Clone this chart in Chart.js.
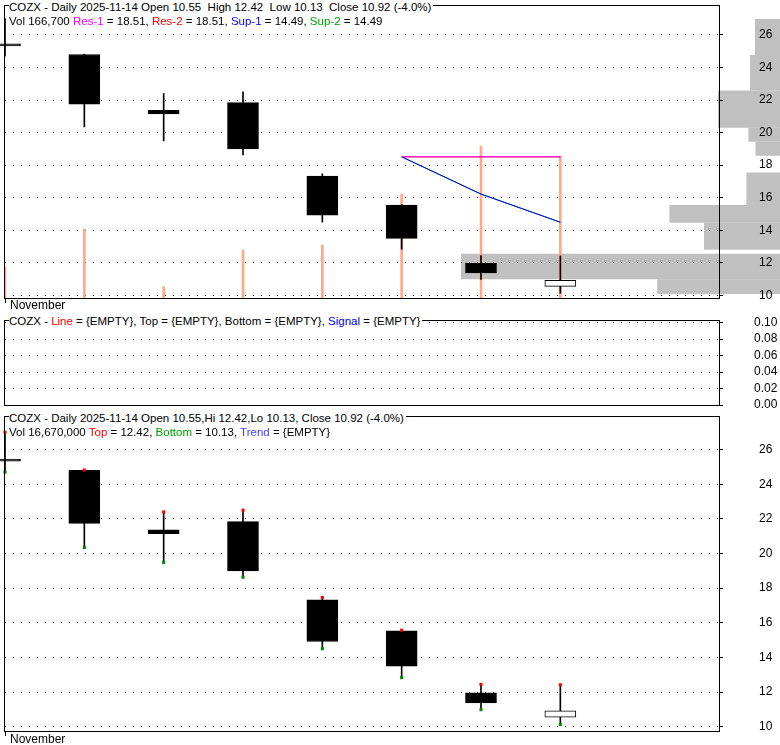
<!DOCTYPE html>
<html>
<head>
<meta charset="utf-8">
<title>COZX Daily</title>
<script src="https://cdn.jsdelivr.net/npm/chart.js@4.4.1/dist/chart.umd.min.js"></script>
<style>
  body { margin: 0; background: #fff; }
  #wrap { position: relative; width: 780px; height: 745px; overflow: hidden; font-family: "Liberation Sans", Arial, sans-serif; }
  canvas { position: absolute; left: 0; }
  .hdr { position: absolute; font-size: 11.5px; line-height: 14px; white-space: pre; color: #000; }
  .bg { background: #fff; padding-right: 2px; }
</style>
</head>
<body>
<div id="wrap">
  <canvas id="hist" width="780" height="315" style="top:0"></canvas>
  <canvas id="price" width="780" height="315" style="top:0"></canvas>
  <canvas id="ind" width="780" height="95" style="top:315px"></canvas>
  <canvas id="hilo" width="780" height="335" style="top:410px"></canvas>
  <div class="hdr bg" id="h1" style="left:9px;top:0"></div>
  <div class="hdr" id="h2" style="left:9px;top:14px"></div>
  <div class="hdr bg" id="h3" style="left:9px;top:314px"></div>
  <div class="hdr bg" id="h4" style="left:9px;top:411px"></div>
  <div class="hdr" id="h5" style="left:9px;top:425px"></div>
</div>
<script>
// daily candles (index 0 = first day shown)
const days = [0, 1, 2, 3, 4, 5, 6, 7];
const openPx  = [25.40, 24.80, 21.37, 21.84, 17.32, 15.54, 11.96, 10.55];
const highPx  = [27.00, 24.82, 22.40, 22.50, 17.46, 15.57, 12.44, 12.42];
const lowPx   = [24.70, 20.35, 19.49, 18.63, 14.50, 12.83, 10.98, 10.13];
const closePx = [25.33, 21.74, 21.14, 19.00, 14.92, 13.50, 11.37, 10.92];
const volume  = [36700, 81000, 13300, 56400, 62200, 122100, 178400, 166700];

// resistance / support lines
const srDays = [5, 6, 7];
const res1 = [18.51, 18.51, 18.51];
const res2 = [18.51, 18.51, 18.51];
const sup1 = [18.51, 16.22, 14.49];
const sup2 = [18.51, 16.22, 14.49];

// volume by price
const binLow  = [24.77, 22.58, 20.30, 19.44, 18.58, 15.55, 14.46, 12.80, 10.98, 10.08];
const binHigh = [26.98, 24.77, 22.58, 20.30, 19.44, 17.54, 15.55, 14.46, 12.56, 10.98];
const binVol  = [25000, 30000, 62000, 31600, 24500, 33600, 110600, 76000, 319000, 122800];

const priceTicks = [10, 12, 14, 16, 18, 20, 22, 24, 26];
const indTicks = [0, 0.02, 0.04, 0.06, 0.08, 0.10];
const monthTicks = [0];
const monthLabels = ['November'];

Chart.defaults.font.family = "'Liberation Sans', Arial, sans-serif";
Chart.defaults.font.size = 12;
Chart.defaults.color = '#000';

const last = days.length - 1;
const chg = (closePx[last] - closePx[last - 1]) / closePx[last - 1] * 100;
const f = v => v.toFixed(2);
const span = (c, t) => `<span style="color:${c}">${t}</span>`;
document.getElementById('h1').textContent =
  `COZX - Daily 2025-11-14 Open ${f(openPx[last])}  High ${f(highPx[last])}  Low ${f(lowPx[last])}  Close ${f(closePx[last])} (${chg.toFixed(1)}%)`;
document.getElementById('h2').innerHTML =
  `Vol ${volume[last].toLocaleString('en-US')} ${span('#ff00ff', 'Res-1')} = ${f(res1[last - 5])}, ${span('#ff0000', 'Res-2')} = ${f(res2[last - 5])}, ${span('#0000ff', 'Sup-1')} = ${f(sup1[last - 5])}, ${span('#00a000', 'Sup-2')} = ${f(sup2[last - 5])}`;
document.getElementById('h3').innerHTML =
  `COZX - ${span('#ff0000', 'Line')} = {EMPTY}, Top = {EMPTY}, Bottom = {EMPTY}, ${span('#0000ff', 'Signal')} = {EMPTY}`;
document.getElementById('h4').textContent =
  `COZX - Daily 2025-11-14 Open ${f(openPx[last])},Hi ${f(highPx[last])},Lo ${f(lowPx[last])}, Close ${f(closePx[last])} (${chg.toFixed(1)}%)`;
document.getElementById('h5').innerHTML =
  `Vol ${(volume[last] * 100).toLocaleString('en-US')} ${span('#ff0000', 'Top')} = ${f(highPx[last])}, ${span('#00a000', 'Bottom')} = ${f(lowPx[last])}, ${span('#4040ff', 'Trend')} = {EMPTY}`;

// black box round the plot area
const frame = {
  id: 'frame',
  afterDraw(chart) {
    const {ctx, chartArea: a} = chart;
    ctx.save();
    ctx.strokeStyle = '#000';
    ctx.lineWidth = 1;
    ctx.strokeRect(a.left - 0.5, a.top + 0.5, a.right - a.left + 1, a.bottom - a.top);
    ctx.restore();
  }
};

function priceAxis(min, max, ticks, pad, fmt) {
  return {
    position: 'right', min, max,
    afterBuildTicks: s => { s.ticks = ticks.map(v => ({value: v})); },
    afterFit: s => { s.width = 61; s.paddingTop = 0; s.paddingBottom = 0; },
    grid: { color: '#000', tickLength: 4, tickBorderDash: [] },
    border: { display: false, dash: [1, 7] },
    ticks: { crossAlign: 'center', padding: pad, autoSkip: false, callback: fmt }
  };
}

function timeAxis(h, pad) {
  return {
    type: 'linear', min: 0, max: 9, offset: false,
    afterBuildTicks: s => { s.ticks = monthTicks.map(v => ({value: v})); },
    afterFit: s => { s.height = h; s.paddingLeft = 0; s.paddingRight = 0; },
    grid: { drawOnChartArea: false, color: '#000', tickLength: 5, offset: false },
    border: { display: false },
    ticks: { align: 'start', labelOffset: 5, padding: pad, maxRotation: 0, autoSkip: false,
      callback: (v, i) => monthLabels[i] }
  };
}

function candles() {
  return [
    {
      type: 'bar', label: 'body', order: 1,
      data: days.map((d, i) => ({x: d, y: [openPx[i], closePx[i]]})),
      backgroundColor: days.map(i => closePx[i] > openPx[i] ? '#fff' : '#000'),
      borderColor: '#000', borderWidth: 1, borderSkipped: false,
      barThickness: 31, minBarLength: 2, grouped: false, clip: false
    },
    {
      type: 'bar', label: 'wick', order: 2,
      data: days.map((d, i) => ({x: d, y: [lowPx[i], highPx[i]]})),
      backgroundColor: '#000', barThickness: 1, grouped: false, clip: false
    }
  ];
}

function srLine(vals, color, order) {
  return {
    type: 'line', order, data: srDays.map((d, i) => ({x: d, y: vals[i]})),
    borderColor: color, borderWidth: 1, pointRadius: 0, fill: false, tension: 0
  };
}

const base = {
  responsive: false, animation: false, devicePixelRatio: 1, events: [],
  plugins: { legend: { display: false }, tooltip: { enabled: false } }
};

// volume-by-price histogram, drawn under the price panel
new Chart(document.getElementById('hist'), {
  type: 'line',
  data: {
    datasets: binVol.map((v, i) => ({
      data: [{x: v, y: binLow[i]}, {x: v, y: binHigh[i]}, {x: 0, y: binHigh[i]}, {x: 0, y: binLow[i]}],
      fill: 'shape', backgroundColor: '#c0c0c0', borderWidth: 0, pointRadius: 0, tension: 0
    }))
  },
  options: {
    ...base,
    layout: { padding: { left: 5, top: 5, right: 0, bottom: 17 } },
    scales: {
      x: { type: 'linear', reverse: true, min: 0, max: 775000, display: false },
      y: { min: 9.834, max: 27.84, display: false }
    }
  }
});

new Chart(document.getElementById('price'), {
  type: 'line',
  data: {
    datasets: [
      ...candles(),
      srLine(res2, '#ff0000', 4),
      srLine(sup2, '#00a000', 4),
      srLine(res1, '#ff00ff', 3),
      srLine(sup1, '#0000ff', 3),
      {
        type: 'bar', label: 'volume', order: 5, yAxisID: 'yVol',
        data: days.map((d, i) => ({x: d, y: volume[i]})),
        backgroundColor: '#ffa88a', barThickness: 2, grouped: false
      }
    ]
  },
  options: {
    ...base,
    layout: { padding: { left: 5, top: 5, right: 0, bottom: 0 } },
    scales: {
      x: timeAxis(17, -5),
      y: priceAxis(9.834, 27.84, priceTicks, 36),
      yVol: { display: false, min: 0, max: 344000 }
    }
  },
  plugins: [frame]
});

new Chart(document.getElementById('ind'), {
  type: 'line',
  data: { datasets: [{ data: [] }] },
  options: {
    ...base,
    layout: { padding: { left: 5, top: 5, right: 0, bottom: 5 } },
    scales: {
      x: { type: 'linear', min: 0, max: 9, display: false },
      y: priceAxis(0, 0.1033, indTicks, 31, v => v.toFixed(2))
    }
  },
  plugins: [frame]
});

new Chart(document.getElementById('hilo'), {
  type: 'line',
  data: {
    datasets: [
      ...candles(),
      {
        type: 'line', label: 'top', order: 0, showLine: false, clip: false,
        data: days.map((d, i) => ({x: d, y: highPx[i]})),
        pointStyle: 'rect', pointRadius: 2.2, pointBorderWidth: 0, pointBackgroundColor: '#ff0000'
      },
      {
        type: 'line', label: 'bottom', order: 0, showLine: false, clip: false,
        data: days.map((d, i) => ({x: d, y: lowPx[i]})),
        pointStyle: 'rect', pointRadius: 2.2, pointBorderWidth: 0, pointBackgroundColor: '#008800'
      }
    ]
  },
  options: {
    ...base,
    layout: { padding: { left: 5, top: 6, right: 0, bottom: 0 } },
    scales: {
      x: timeAxis(14, -4),
      y: priceAxis(9.75, 27.94, priceTicks, 36)
    }
  },
  plugins: [frame]
});
</script>
</body>
</html>
